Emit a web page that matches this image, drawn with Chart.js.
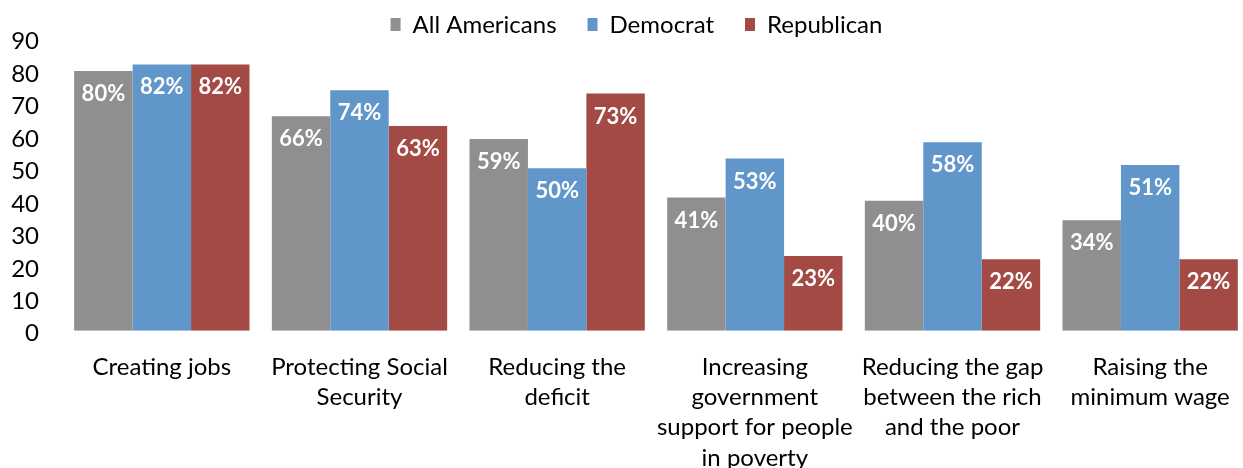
<!DOCTYPE html>
<html><head><meta charset="utf-8">
<script src="https://cdn.jsdelivr.net/npm/chart.js@4/dist/chart.umd.min.js"></script>
<style>html,body{margin:0;padding:0;overflow:hidden;background:#fff}#wrap{width:1249px;height:494px;position:relative}</style>
</head><body><div id="wrap"><canvas id="c"></canvas></div>
<script>
const categories = [
  ["Creating jobs"],
  ["Protecting Social", "Security"],
  ["Reducing the", "deficit"],
  ["Increasing", "government", "support for people", "in poverty"],
  ["Reducing the gap", "between the rich", "and the poor"],
  ["Raising the", "minimum wage"]
];
const allAmericans = [80, 66, 59, 41, 40, 34];
const democrat = [82, 74, 50, 53, 58, 51];
const republican = [82, 63, 73, 23, 22, 22];
const seriesNames = ["All Americans", "Democrat", "Republican"];
const colors = ["#8f8f8f", "#6096c9", "#a44a44"];
const yTicks = [0, 10, 20, 30, 40, 50, 60, 70, 80, 90];

const FONT = 'Lato';

const labelPlugin = {
  id: 'barLabels',
  afterDatasetsDraw(chart) {
    const ctx = chart.ctx;
    ctx.save();
    ctx.font = 'bold 22px ' + FONT;
    ctx.fillStyle = '#ffffff';
    ctx.textAlign = 'center';
    ctx.textBaseline = 'middle';
    chart.data.datasets.forEach((ds, i) => {
      chart.getDatasetMeta(i).data.forEach((bar, j) => {
        ctx.fillText(ds.data[j] + '%', bar.x, bar.y + 23);
      });
    });
    ctx.restore();
  }
};

const legendPlugin = {
  id: 'customLegend',
  afterDraw(chart) {
    const ctx = chart.ctx;
    ctx.save();
    ctx.font = '24px ' + FONT;
    ctx.textBaseline = 'middle';
    ctx.textAlign = 'left';
    const box = 10, gapText = 12, gapItem = 31;
    const items = chart.data.datasets.map(ds => ({ text: ds.label, color: ds.backgroundColor, w: ctx.measureText(ds.label).width }));
    const total = items.reduce((s, it) => s + box + gapText + it.w, 0) + gapItem * (items.length - 1);
    let x = chart.width / 2 + 12 - total / 2;
    const cy = 25;
    items.forEach(it => {
      ctx.fillStyle = it.color;
      ctx.fillRect(x, cy - 7, box, 13);
      ctx.fillStyle = '#000';
      ctx.fillText(it.text, x + box + gapText, cy);
      x += box + gapText + it.w + gapItem;
    });
    ctx.restore();
  }
};

new Chart(document.getElementById('c'), {
  type: 'bar',
  data: {
    labels: categories,
    datasets: [allAmericans, democrat, republican].map((d, i) => ({
      label: seriesNames[i], data: d, backgroundColor: colors[i],
      categoryPercentage: 0.887, barPercentage: 1.0, borderWidth: 0
    }))
  },
  options: {
    responsive: true, maintainAspectRatio: false, animation: false,
    layout: { padding: { left: 0, right: 0, top: 22, bottom: 0 } },
    plugins: {
      legend: { display: false },
      tooltip: { enabled: false }
    },
    scales: {
      x: {
        grid: { display: false, drawTicks: false },
        border: { display: false },
        ticks: { color: '#000', font: { family: FONT, size: 24, lineHeight: 1.263 }, padding: 21, maxRotation: 0, minRotation: 0, autoSkip: false },
        afterFit(scale) { scale.paddingLeft = 0; scale.paddingRight = 0; }
      },
      y: {
        min: 0, max: 90,
        afterBuildTicks(scale) { scale.ticks = yTicks.map(v => ({ value: v })); },
        grid: { display: false, drawTicks: false },
        border: { display: false },
        ticks: { color: '#000', font: { family: FONT, size: 24 }, padding: 24, labelOffset: 3, autoSkip: false },
        afterFit(scale) { scale.width = 63; }
      }
    }
  },
  plugins: [labelPlugin, legendPlugin]
});
</script></body></html>
